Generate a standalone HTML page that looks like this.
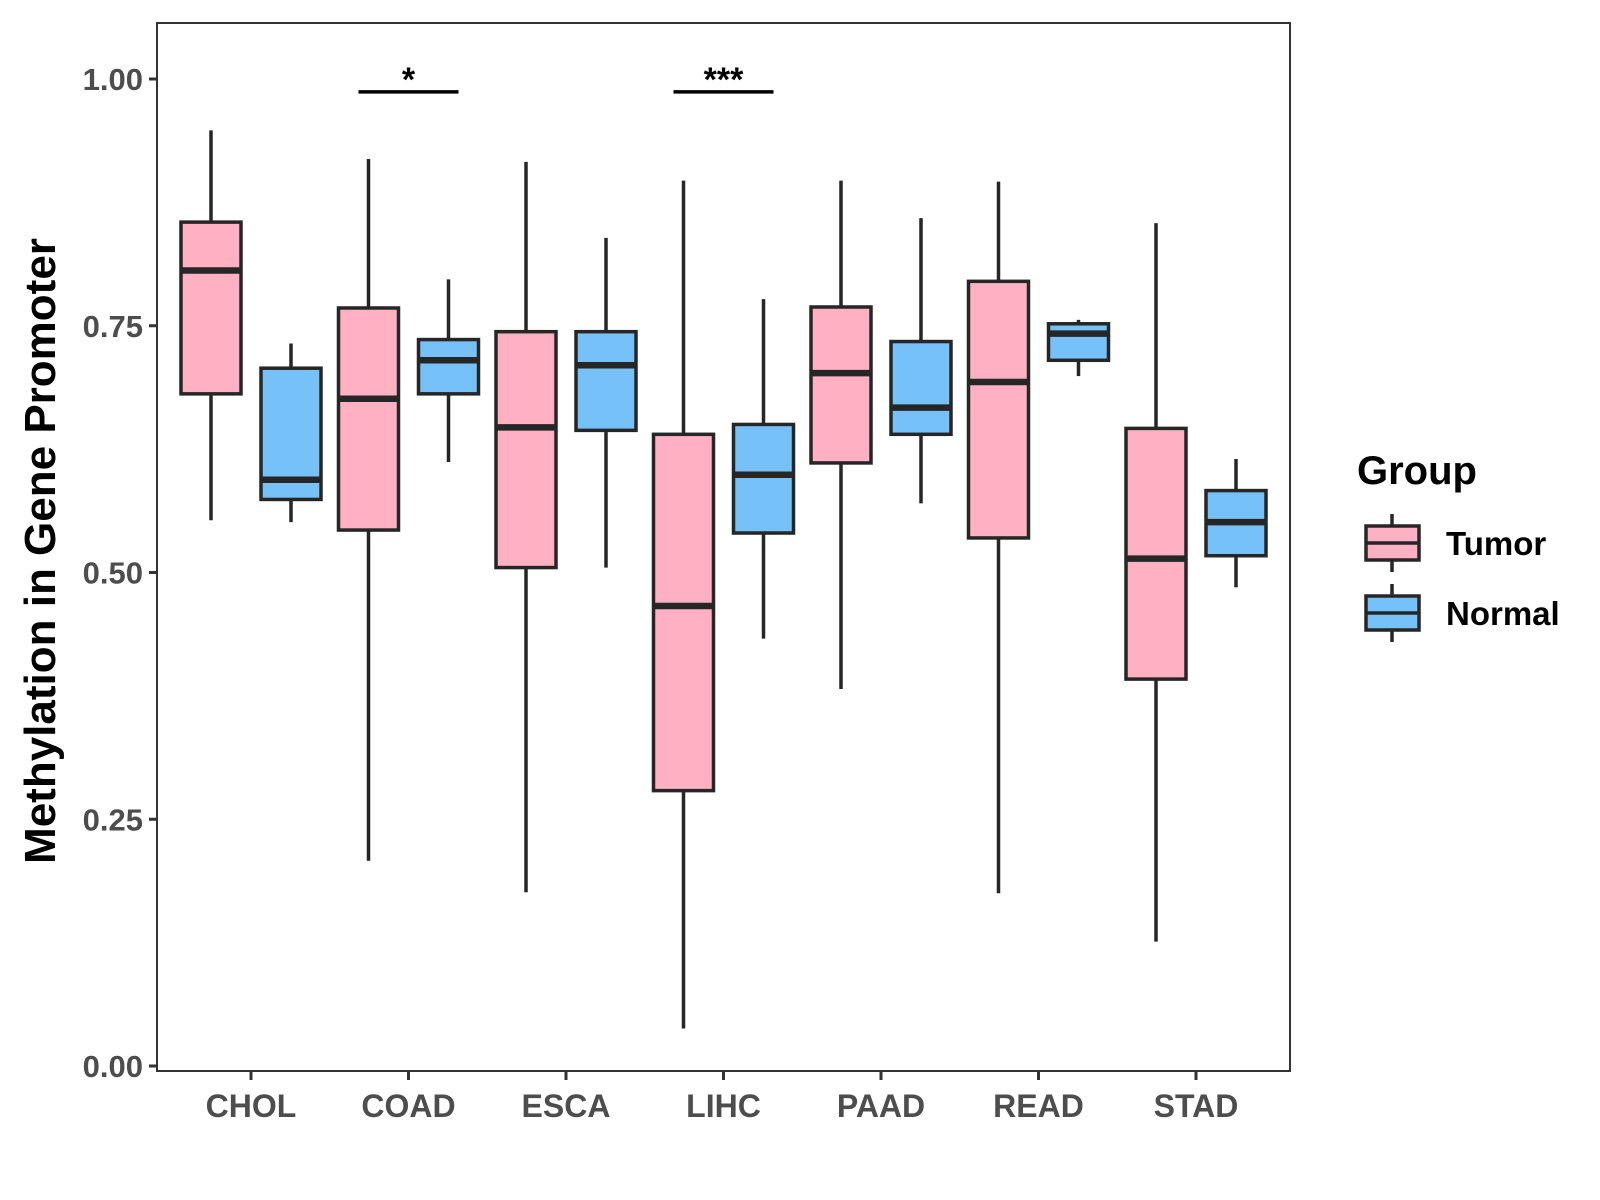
<!DOCTYPE html>
<html><head><meta charset="utf-8"><style>
html,body{margin:0;padding:0;background:#fff}
svg{display:block;font-family:"Liberation Sans",Arial,sans-serif}
</style></head><body>
<svg id="chart" width="1600" height="1200" viewBox="0 0 1600 1200">
<rect width="1600" height="1200" fill="#fff"/>
<g id="plot"></g>
</svg>
<script>
const categories = ["CHOL","COAD","ESCA","LIHC","PAAD","READ","STAD"];
// [whiskerLow, Q1, median, Q3, whiskerHigh]
const tumorStats = [
  [0.553,0.681,0.806,0.855,0.948],
  [0.208,0.543,0.676,0.768,0.919],
  [0.176,0.505,0.647,0.744,0.916],
  [0.038,0.279,0.466,0.640,0.897],
  [0.382,0.611,0.702,0.769,0.897],
  [0.175,0.535,0.693,0.795,0.896],
  [0.126,0.392,0.514,0.646,0.854]
];
const normalStats = [
  [0.551,0.574,0.594,0.707,0.732],
  [0.612,0.681,0.715,0.736,0.797],
  [0.505,0.644,0.710,0.744,0.839],
  [0.433,0.540,0.599,0.650,0.777],
  [0.570,0.640,0.667,0.734,0.859],
  [0.699,0.715,0.742,0.752,0.756],
  [0.485,0.517,0.551,0.583,0.615]
];
const yTicks = [0,0.25,0.5,0.75,1.0];
const yTickLabels = ["0.00","0.25","0.50","0.75","1.00"];
const sigCategories = ["COAD","LIHC"];
const sigLabels = ["*","***"];
const sigHeight = [0.987,0.987];

const NS="http://www.w3.org/2000/svg";
const g=document.getElementById('plot');
const L=157,R=1290,T=23,B=1071;
const y=v=>1066-v*987;
const x=i=>251+i*157.5;
function el(tag,attrs,parent){const e=document.createElementNS(NS,tag);for(const k in attrs)e.setAttribute(k,attrs[k]);(parent||g).appendChild(e);return e;}

function drawBox(cx,s,fill,name){
  const grp=el('g',{});
  
  
  el('line',{x1:cx,x2:cx,y1:y(s[3]),y2:y(s[4]),stroke:'#262626','stroke-width':3.5},grp);
  el('line',{x1:cx,x2:cx,y1:y(s[0]),y2:y(s[1]),stroke:'#262626','stroke-width':3.5},grp);
  el('rect',{x:cx-30,y:y(s[3]),width:60,height:y(s[1])-y(s[3]),fill:fill,stroke:'#262626','stroke-width':3.5},grp);
  el('line',{x1:cx-30,x2:cx+30,y1:y(s[2]),y2:y(s[2]),stroke:'#262626','stroke-width':6.5},grp);
}
categories.forEach((c,i)=>{
  drawBox(x(i)-40,tumorStats[i],'#ffb0c2','box-tumor-'+c.toLowerCase());
  drawBox(x(i)+40,normalStats[i],'#76c2f8','box-normal-'+c.toLowerCase());
});
const border=el('rect',{x:L,y:T,width:R-L,height:B-T,fill:'none',stroke:'#333','stroke-width':2});


yTicks.forEach((v,i)=>{
  el('line',{x1:L-8,x2:L,y1:y(v),y2:y(v),stroke:'#333','stroke-width':3});
  const t=el('text',{x:L-14,y:y(v)+11,'text-anchor':'end','font-size':31,'font-weight':'bold',fill:'#4d4d4d'});
  t.textContent=yTickLabels[i];
  
  
});
categories.forEach((c,i)=>{
  el('line',{x1:x(i),x2:x(i),y1:B,y2:B+9,stroke:'#333','stroke-width':3});
  const t=el('text',{x:x(i),y:B+46,'text-anchor':'middle','font-size':32,'font-weight':'bold',fill:'#4d4d4d'});
  t.textContent=c;
  
  
});
sigCategories.forEach((c,k)=>{
  const i=categories.indexOf(c);
  const yy=y(sigHeight[k]);
  el('line',{x1:x(i)-50,x2:x(i)+50,y1:yy,y2:yy,stroke:'#000','stroke-width':3.5});
  const t=el('text',{x:x(i),y:yy-1,'text-anchor':'middle','font-size':34,'font-weight':'bold',fill:'#000'});
  t.textContent=sigLabels[k];
  
  
});
const yt=el('text',{x:0,y:0,transform:'translate(55,551) rotate(-90)','text-anchor':'middle','font-size':44,'font-weight':'bold',fill:'#000'});
yt.textContent='Methylation in Gene Promoter';


const lg=el('g',{});


const ltitle=el('text',{x:1357,y:484,'font-size':40,'font-weight':'bold',fill:'#000'},lg);
ltitle.textContent='Group';


[['Tumor','#ffb0c2',526],['Normal','#76c2f8',596]].forEach(([n,f,ky])=>{
  const e=el('g',{},lg);
  
  
  el('line',{x1:1392,x2:1392,y1:ky-12,y2:ky+46,stroke:'#262626','stroke-width':3.5},e);
  el('rect',{x:1366,y:ky,width:53,height:34,fill:f,stroke:'#262626','stroke-width':3.5},e);
  el('line',{x1:1366,x2:1419,y1:ky+17,y2:ky+17,stroke:'#262626','stroke-width':3.5},e);
  const t=el('text',{x:1446,y:ky+29,'font-size':33,'font-weight':'bold',fill:'#000'},e);
  t.textContent=n;
});
</script>
</body></html>
